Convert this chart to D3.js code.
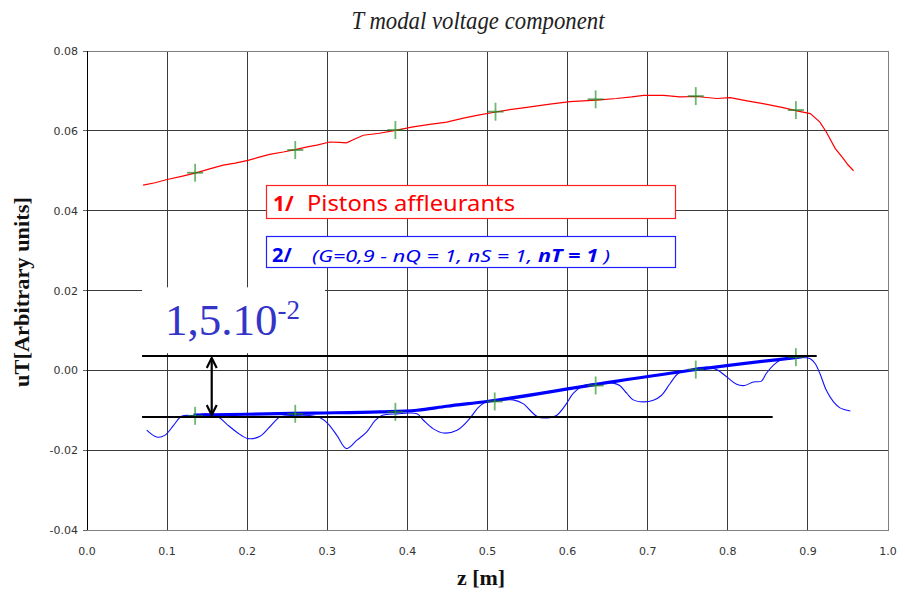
<!DOCTYPE html>
<html><head><meta charset="utf-8">
<script src="https://cdn.jsdelivr.net/npm/d3@7"></script>
<style>body{margin:0;background:#fff}svg{display:block}</style>
</head><body>
<svg id="c" width="905" height="594"></svg>
<script>
// ---------- DATA ----------
const xTickValues = [0,0.1,0.2,0.3,0.4,0.5,0.6,0.7,0.8,0.9,1.0];
const xTickLabels = ["0.0","0.1","0.2","0.3","0.4","0.5","0.6","0.7","0.8","0.9","1.0"];
const yTickValues = [-0.04,-0.02,0,0.02,0.04,0.06,0.08];
const yTickLabels = ["-0.04","-0.02","0.00","0.02","0.04","0.06","0.08"];

// series 1: Pistons affleurants (red)
const redZ = [0.070,0.085,0.100,0.118,0.135,0.152,0.170,0.185,0.201,0.215,0.228,0.245,0.260,0.275,0.287,0.303,0.315,0.324,0.335,0.345,0.365,0.385,0.407,0.428,0.449,0.470,0.490,0.507,0.528,0.549,0.578,0.603,0.636,0.661,0.680,0.695,0.720,0.740,0.761,0.786,0.803,0.824,0.844,0.869,0.886,0.903,0.915,0.923,0.934,0.944,0.950,0.957];
const redV = [0.0464,0.0470,0.0478,0.0486,0.0494,0.0504,0.0514,0.0519,0.0526,0.0534,0.0541,0.0547,0.0553,0.0560,0.0564,0.0572,0.0571,0.0570,0.0580,0.0589,0.0594,0.0601,0.0610,0.0616,0.0622,0.0632,0.0640,0.0646,0.0653,0.0659,0.0667,0.0673,0.0677,0.0681,0.0685,0.0689,0.0689,0.0685,0.0686,0.0681,0.0683,0.0675,0.0668,0.0658,0.0650,0.0643,0.0622,0.0597,0.0556,0.0531,0.0515,0.0500];

// series 2: (G=0,9 - nQ=1, nS=1, nT=1) (blue)
const blueZ = [0.0745,0.087,0.097,0.108,0.118,0.133,0.149,0.164,0.174,0.187,0.201,0.216,0.228,0.241,0.258,0.278,0.291,0.301,0.312,0.324,0.337,0.349,0.360,0.368,0.387,0.412,0.420,0.432,0.445,0.462,0.476,0.489,0.499,0.509,0.532,0.545,0.553,0.563,0.574,0.586,0.597,0.607,0.620,0.634,0.657,0.665,0.674,0.682,0.695,0.707,0.717,0.728,0.738,0.753,0.774,0.786,0.799,0.811,0.821,0.832,0.842,0.848,0.857,0.867,0.878,0.890,0.903,0.909,0.915,0.923,0.932,0.940,0.953];
const blueV = [-0.0150,-0.0167,-0.0163,-0.0138,-0.0115,-0.0113,-0.0109,-0.0117,-0.0134,-0.0155,-0.0171,-0.0165,-0.0142,-0.0117,-0.0113,-0.0113,-0.0119,-0.0134,-0.0163,-0.0196,-0.0175,-0.0155,-0.0125,-0.0113,-0.0109,-0.0109,-0.0125,-0.0146,-0.0157,-0.0150,-0.0125,-0.0092,-0.0078,-0.0077,-0.0074,-0.0084,-0.0100,-0.0117,-0.0119,-0.0113,-0.0088,-0.0058,-0.0038,-0.0033,-0.0032,-0.0038,-0.0058,-0.0074,-0.0079,-0.0075,-0.0063,-0.0033,-0.0008,0.0002,0.0008,0.0002,-0.0017,-0.0035,-0.0038,-0.0029,-0.0027,-0.0008,0.0013,0.0027,0.0029,0.0032,0.0029,0.0017,-0.0008,-0.0050,-0.0079,-0.0094,-0.0102];

// thick envelope line on series 2
const fitZ = [0.133,0.200,0.283,0.366,0.412,0.449,0.499,0.636,0.761,0.884,0.893];
const fitV = [-0.0112,-0.0110,-0.0107,-0.0104,-0.0100,-0.0090,-0.0078,-0.0035,0.0002,0.0032,0.0034];

// green cross markers
const markRedZ = [0.135,0.260,0.385,0.510,0.635,0.760,0.885];
const markRedV = [0.0495,0.0552,0.0602,0.0648,0.0679,0.0687,0.0652];
const markBlueZ = [0.135,0.260,0.385,0.509,0.635,0.760,0.885];
const markBlueV = [-0.0114,-0.0109,-0.0104,-0.0078,-0.0038,0.0002,0.0033];

// annotation: 1,5.10^-2 band
const bandTop = 0.0036, bandBottom = -0.0117;
const bandTopZ = [0.0687, 0.911];
const bandBottomZ = [0.0687, 0.856];
const arrowZ = 0.1557;
const labelBoxZ = [0.0687, 0.297];
const labelBoxV = [0.0043, 0.0208];

const titleText = "T modal voltage component";
const xTitle = "z [m]";
const yTitle = "uT[Arbitrary units]";

// ---------- DRAW ----------
const svg = d3.select("#c");
const x = d3.scaleLinear().domain([0,1]).range([87,888]);
const y = d3.scaleLinear().domain([-0.04,0.08]).range([530,51]);

svg.append("defs").append("marker")
  .attr("id","ah").attr("viewBox","0 0 12 12").attr("refX",11).attr("refY",6)
  .attr("markerWidth",12).attr("markerHeight",12).attr("markerUnits","userSpaceOnUse")
  .attr("orient","auto-start-reverse")
  .append("path").attr("d","M1,1 L11,6 L1,11").attr("fill","none").attr("stroke","#000").attr("stroke-width",2.2);

// grid
const g = svg.append("g").attr("shape-rendering","crispEdges");
g.selectAll(".vg").data(xTickValues.slice(1,-1)).join("line")
  .attr("x1",d=>x(d)).attr("x2",d=>x(d)).attr("y1",y(0.08)).attr("y2",y(-0.04))
  .attr("stroke","#3a3a3a").attr("stroke-width",1);
g.selectAll(".hg").data(yTickValues.slice(1,-1)).join("line")
  .attr("x1",x(0)).attr("x2",x(1)).attr("y1",d=>y(d)).attr("y2",d=>y(d))
  .attr("stroke","#3a3a3a").attr("stroke-width",1);
g.append("rect").attr("x",x(0)).attr("y",y(0.08)).attr("width",x(1)-x(0)).attr("height",y(-0.04)-y(0.08))
  .attr("fill","none").attr("stroke","#808080");
g.append("line").attr("x1",x(0)).attr("x2",x(0)).attr("y1",y(0.08)).attr("y2",y(-0.04)).attr("stroke","#000");
g.selectAll(".yt").data(yTickValues).join("line")
  .attr("x1",x(0)-4).attr("x2",x(0)).attr("y1",d=>y(d)).attr("y2",d=>y(d)).attr("stroke","#666");

// tick labels
svg.selectAll(".ytl").data(yTickValues).join("text")
  .attr("x",x(0)-9).attr("y",d=>y(d)+4).attr("text-anchor","end")
  .attr("font-family","DejaVu Sans").attr("font-size",11).attr("fill","#333")
  .text((d,i)=>yTickLabels[i]);
svg.selectAll(".xtl").data(xTickValues).join("text")
  .attr("x",d=>x(d)).attr("y",555).attr("text-anchor","middle")
  .attr("font-family","DejaVu Sans").attr("font-size",11).attr("fill","#333")
  .text((d,i)=>xTickLabels[i]);

// white box behind annotation label
svg.append("rect").attr("x",x(labelBoxZ[0])).attr("y",y(labelBoxV[1]))
  .attr("width",x(labelBoxZ[1])-x(labelBoxZ[0])).attr("height",y(labelBoxV[0])-y(labelBoxV[1]))
  .attr("fill","#fff");

const line = d3.line().x(d=>x(d[0])).y(d=>y(d[1]));
svg.append("path").datum(blueZ.map((z,i)=>[z,blueV[i]]))
  .attr("d",line.curve(d3.curveCatmullRom)).attr("fill","none").attr("stroke","#1010ff").attr("stroke-width",1.1);
svg.append("path").datum(redZ.map((z,i)=>[z,redV[i]]))
  .attr("d",d3.line().x(d=>x(d[0])).y(d=>y(d[1]))).attr("fill","none").attr("stroke","#ff0000").attr("stroke-width",1.2);
svg.append("path").datum(fitZ.map((z,i)=>[z,fitV[i]]))
  .attr("d",d3.line().x(d=>x(d[0])).y(d=>y(d[1])).curve(d3.curveMonotoneX)).attr("fill","none").attr("stroke","#0000ff").attr("stroke-width",3.2);

// crosses
function crosses(zs, vs){
  const cg = svg.append("g").attr("stroke","#2f9a2f").attr("stroke-opacity",0.7).attr("stroke-width",1.8);
  zs.forEach((z,i)=>{
    cg.append("line").attr("x1",x(z)-8).attr("x2",x(z)+8).attr("y1",y(vs[i])).attr("y2",y(vs[i])).attr("stroke","#1d7a1d");
    cg.append("line").attr("x1",x(z)).attr("x2",x(z)).attr("y1",y(vs[i])-9).attr("y2",y(vs[i])+9);
  });
}
crosses(markRedZ, markRedV);
crosses(markBlueZ, markBlueV);

// band lines + arrow
svg.append("line").attr("x1",x(bandTopZ[0])).attr("x2",x(bandTopZ[1])).attr("y1",y(bandTop)).attr("y2",y(bandTop))
  .attr("stroke","#000").attr("stroke-width",2);
svg.append("line").attr("x1",x(bandBottomZ[0])).attr("x2",x(bandBottomZ[1])).attr("y1",y(bandBottom)).attr("y2",y(bandBottom))
  .attr("stroke","#000").attr("stroke-width",2);
svg.append("line").attr("x1",x(arrowZ)).attr("x2",x(arrowZ)).attr("y1",y(bandTop)+2).attr("y2",y(bandBottom)-2)
  .attr("stroke","#000").attr("stroke-width",2.2)
  .attr("marker-start","url(#ah)").attr("marker-end","url(#ah)");

// annotation label
const lab = svg.append("text").attr("x",165).attr("y",335)
  .attr("font-family","Liberation Serif").attr("font-size",45).attr("fill","#3434c8");
lab.append("tspan").text("1,5.10");
lab.append("tspan").attr("font-size",27).attr("dy",-16).text("-2");

// legend boxes
svg.append("rect").attr("x",266.5).attr("y",185.5).attr("width",409).attr("height",33)
  .attr("fill","#fff").attr("stroke","#ff2020").attr("stroke-width",1.2);
svg.append("rect").attr("x",266.5).attr("y",236.5).attr("width",409).attr("height",31)
  .attr("fill","#fff").attr("stroke","#2020ff").attr("stroke-width",1.2);

svg.append("text").attr("x",273).attr("y",211).attr("font-family","Noto Sans").attr("font-weight","bold")
  .attr("font-size",21).attr("fill","#ff0000").text("1/");
svg.append("text").attr("x",307).attr("y",211).attr("font-family","Noto Sans")
  .attr("font-size",21).attr("fill","#ff0000").attr("textLength",208).attr("lengthAdjust","spacingAndGlyphs")
  .text("Pistons affleurants");
svg.append("text").attr("x",272).attr("y",262).attr("font-family","Noto Sans").attr("font-weight","bold")
  .attr("font-size",20).attr("fill","#0000ee").text("2/");
const t2 = svg.append("text").attr("x",312).attr("y",262).attr("font-family","Noto Sans").attr("font-style","italic")
  .attr("font-size",17).attr("fill","#0000ee").attr("textLength",298).attr("lengthAdjust","spacingAndGlyphs");
t2.append("tspan").text("(G=0,9 - nQ = 1, nS = 1, ");
t2.append("tspan").attr("font-weight","bold").text("nT = 1");
t2.append("tspan").text(" )");

// titles
svg.append("text").attr("x",478).attr("y",29).attr("text-anchor","middle")
  .attr("font-family","Liberation Serif, serif").attr("font-style","italic").attr("font-size",26)
  .attr("textLength",253).attr("lengthAdjust","spacingAndGlyphs").attr("fill","#222").text(titleText);
svg.append("text").attr("x",481).attr("y",585).attr("text-anchor","middle")
  .attr("font-family","Liberation Serif, serif").attr("font-weight","bold").attr("font-size",22)
  .attr("fill","#111").text(xTitle);
svg.append("text").attr("transform","translate(29,292) rotate(-90)").attr("text-anchor","middle")
  .attr("font-family","Liberation Serif, serif").attr("font-weight","bold").attr("font-size",20)
  .attr("textLength",190).attr("lengthAdjust","spacingAndGlyphs").attr("fill","#111").text(yTitle);
</script>
</body></html>
